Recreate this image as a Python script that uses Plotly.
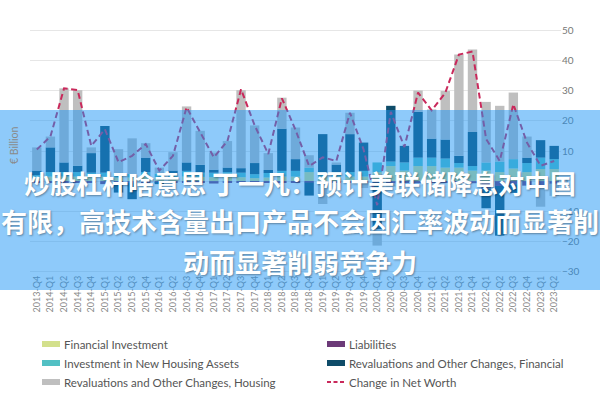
import plotly.graph_objects as go

quarters = ["2013-Q4",
            "2014-Q1", "2014-Q2", "2014-Q3", "2014-Q4",
            "2015-Q1", "2015-Q2", "2015-Q3", "2015-Q4",
            "2016-Q1", "2016-Q2", "2016-Q3", "2016-Q4",
            "2017-Q1", "2017-Q2", "2017-Q3", "2017-Q4",
            "2018-Q1", "2018-Q2", "2018-Q3", "2018-Q4",
            "2019-Q1", "2019-Q2", "2019-Q3", "2019-Q4",
            "2020-Q1", "2020-Q2", "2020-Q3", "2020-Q4",
            "2021-Q1", "2021-Q2", "2021-Q3", "2021-Q4",
            "2022-Q1", "2022-Q2", "2022-Q3", "2022-Q4",
            "2023-Q1", "2023-Q2"]

financial_investment = [1.0, 1.5, 1.5, 1.5, 1.5, 1.5, 1.2, 1.2, 1.5, 1.3, 1.2, 1.5, 1.4,
                        1.3, 1.5, 1.3, 1.0, 1.2, 1.5, 1.5, 3.0, 1.5, 1.5, 1.5, 1.5, 3.0,
                        5.0, 3.5, 5.0, 5.0, 4.5, 4.5, 3.5, 3.5, 3.0, 4.2, 3.0, 4.0, 4.0]
housing_investment = [1.0, 1.5, 1.5, 1.5, 1.3, 1.3, 1.2, 1.2, 1.5, 1.2, 1.3, 1.9, 1.4,
                      1.5, 1.5, 1.5, 1.3, 1.5, 1.9, 1.9, 1.5, 1.5, 1.5, 1.5, 1.9, 3.2,
                      1.5, 2.7, 2.8, 2.8, 3.0, 1.5, 1.5, 2.7, 3.5, 3.1, 3.0, 3.8, 3.3]
liabilities = [-0.5, -0.5, -0.5, -0.5, -0.5, -1.0, -0.5, -0.5, -0.3, -0.5, -0.6, -0.3, -0.5,
               -0.8, -0.3, -0.5, -0.5, -0.5, -0.5, -0.5, -0.5, -0.6, -0.3, -0.3, -0.5, -0.5,
               -0.8, -0.4, -0.7, -0.5, -0.6, -0.5, -0.7, -2.5, -1.6, -1.0, -1.5, -1.5, -0.9]
reval_financial = [1.5, 8.2, 3.2, 2.1, 6.5, 15.5, -3.3, -5.5, 4.8, -0.5, 1.0, 2.8, 2.6,
                   1.0, 1.5, 1.5, 3.7, 1.0, 14.0, 3.9, -4.3, 12.6, 2.5, 12.6, 9.4, -15.5,
                   18.5, 5.5, 15.2, 6.3, 6.3, 2.4, 11.3, -6.5, -16.5, -2.9, 1.8, 5.8, 4.4]
reval_housing = [7.7, 3.6, 24.6, 25.1, 1.9, 0.0, 8.2, 11.8, 4.8, 2.0, 6.1, 18.6, 11.3,
                 5.7, 8.8, 25.9, 12.5, 5.6, 10.3, 10.5, 4.1, -7.0, 0.7, 7.1, -1.8, -5.4,
                 -1.0, 0.0, 7.1, 9.7, 16.1, 33.6, 27.4, 20.1, 18.5, 22.1, 7.0, -7.0, -4.0]
net_worth = [10.5, 14.8, 30.8, 30.2, 11.7, 17.2, 6.3, 8.4, 12.3, 3.5, 8.4, 24.5, 16.2,
             7.9, 13.3, 30.5, 18.5, 9.0, 27.5, 17.0, 5.0, 7.9, 6.7, 22.7, 10.5, -8.0,
             23.0, 11.3, 29.4, 23.5, 29.3, 42.0, 43.0, 14.0, 6.7, 25.5, 12.8, 5.1, 6.7]

y_ticks = [-30, -20, -10, 0, 10, 20, 30, 40, 50]

title_lines = ["炒股杠杆啥意思 丁一凡：预计美联储降息对中国",
               "有限，高技术含量出口产品不会因汇率波动而显著削",
               "动而显著削弱竞争力"]

C_FI = "#d3e08c"
C_HI = "#52c0c4"
C_RH = "#bfbfbf"
C_L = "#6c3a78"
C_RF = "#0e4c69"
C_NW = "#c9295b"

W, H = 600, 400
ML, MR, MT, MB = 30, 39, 29, 127
PW = W - ML - MR
PH = H - MT - MB


def px_x(p):
    return (p - ML) / PW


def px_y(p):
    return (H - MB - p) / PH


fig = go.Figure()
bar_specs = [
    ("Financial Investment", financial_investment, C_FI),
    ("Investment in New Housing Assets", housing_investment, C_HI),
    ("Liabilities", liabilities, C_L),
    ("Revaluations and Other Changes, Financial", reval_financial, C_RF),
    ("Revaluations and Other Changes, Housing", reval_housing, C_RH),
]
for name, vals, col in bar_specs:
    fig.add_trace(go.Bar(x=quarters, y=vals, name=name, marker_color=col,
                         marker_line_width=0, showlegend=False))

fig.add_trace(go.Scatter(x=quarters, y=net_worth, mode="lines", name="Change in Net Worth",
                         line=dict(color=C_NW, width=2, dash="6px,3.5px"), showlegend=False))

fig.update_layout(
    width=W, height=H,
    margin=dict(l=ML, r=MR, t=MT, b=MB),
    paper_bgcolor="white", plot_bgcolor="white",
    barmode="relative", bargap=0.31,
    font=dict(family="Lato, 'Noto Sans', sans-serif", color="#666"),
    xaxis=dict(type="category", tickangle=-90, tickfont=dict(size=9, color="#888"),
               showgrid=False, showline=False, ticks="", zeroline=False),
    yaxis=dict(side="right", range=[-30.5, 50.5], tickvals=y_ticks,
               tickfont=dict(size=10, color="#777"), showgrid=True,
               gridcolor="#e6e6e6", gridwidth=1, zeroline=False, showline=False, ticks=""),
)

shapes = []
annotations = []

# axis title on the left
annotations.append(dict(text="€ Billion", x=px_x(14), y=px_y(146), xref="paper", yref="paper",
                        showarrow=False, textangle=-90, font=dict(size=10.5, color="#8a8a8a"),
                        xanchor="center", yanchor="middle"))

# legend (two columns)
legend_items = [
    ("Financial Investment", C_FI, 42, 344, "bar"),
    ("Investment in New Housing Assets", C_HI, 42, 363, "bar"),
    ("Revaluations and Other Changes, Housing", C_RH, 42, 382, "bar"),
    ("Liabilities", C_L, 327, 344, "bar"),
    ("Revaluations and Other Changes, Financial", C_RF, 327, 363, "bar"),
    ("Change in Net Worth", C_NW, 327, 382, "line"),
]
for label, col, sx, sy, kind in legend_items:
    if kind == "bar":
        shapes.append(dict(type="rect", xref="paper", yref="paper",
                           x0=px_x(sx), x1=px_x(sx + 18), y0=px_y(sy + 3), y1=px_y(sy - 3),
                           fillcolor=col, line=dict(width=0)))
    else:
        shapes.append(dict(type="line", xref="paper", yref="paper",
                           x0=px_x(sx), x1=px_x(sx + 18), y0=px_y(sy), y1=px_y(sy),
                           line=dict(color=col, width=2, dash="4px,2.5px")))
    annotations.append(dict(text=label, x=px_x(sx + 20), y=px_y(sy), xref="paper", yref="paper",
                            showarrow=False, xanchor="left", yanchor="middle",
                            font=dict(size=11.5, color="#555")))

# translucent banner over the chart
shapes.append(dict(type="rect", xref="paper", yref="paper", layer="above",
                   x0=px_x(0), x1=px_x(600), y0=px_y(290), y1=px_y(110),
                   fillcolor="rgba(30,150,245,0.5)", line=dict(width=0)))

for txt, yy in zip(title_lines, [182, 220, 261]):
    annotations.append(dict(text="<b>" + txt + "</b>", x=px_x(300), y=px_y(yy),
                            xref="paper", yref="paper", showarrow=False,
                            xanchor="center", yanchor="middle",
                            font=dict(family="'Noto Sans CJK SC'", size=26, color="white",
                                      shadow="1px 1px 2px rgba(0,0,0,0.35)")))

fig.update_layout(shapes=shapes, annotations=annotations)
fig.write_html("out.html")
